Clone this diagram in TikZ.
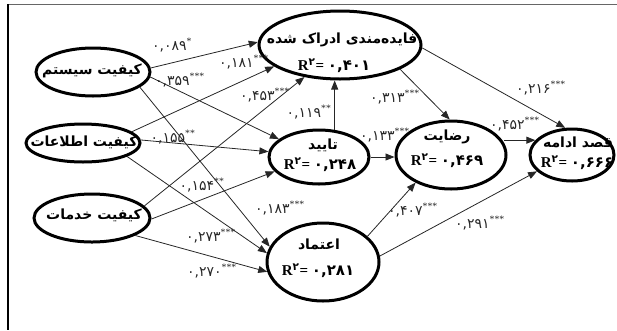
\documentclass[tikz,border=0pt]{standalone}
\usepackage{fontspec}
\usetikzlibrary{shapes.geometric,arrows.meta}
\setmainfont{Liberation Serif}
\newfontfamily\fa[Script=Arabic]{DejaVu Sans}
\TeXXeTstate=1
\newcommand{\edgeval}[2]{{\fa #1}\textsuperscript{#2}}
\newcommand{\rsqline}[1]{\textbf{R}\textsuperscript{\fa\bfseries ۲}\textbf{= }{\fa\bfseries #1}}
\tikzset{
  lat/.style={ellipse, draw=black, line width=3pt, inner sep=0pt},
  arr/.style={draw=black!85, line width=0.8pt, -{Triangle[length=9pt,width=7pt]}},
  elab/.style={inner sep=0pt, text=black!85, font=\fontsize{14}{15}\selectfont},
  ntxt/.style={inner sep=0pt, font=\fontsize{14}{15}\selectfont\fa\bfseries},
  rtxt/.style={inner sep=0pt, font=\fontsize{15}{16}\selectfont}
}
\begin{document}
\begin{tikzpicture}[x=1pt,y=-1pt]
\useasboundingbox (0,0) rectangle (617,330);
\draw[black!60, line width=1.6pt] (7,4.5) -- (617,4.5);
\draw[black, line width=1.8pt] (8,4) -- (8,330);

% latent variables
\node[lat, minimum width=114pt, minimum height=48pt] (sys) at (93,72) {};
\node[lat, minimum width=114pt, minimum height=38pt] (info) at (83,143) {};
\node[lat, minimum width=116pt, minimum height=48pt] (serv) at (92,218) {};
\node[lat, minimum width=162pt, minimum height=68pt] (pu) at (340,45) {};
\node[lat, minimum width=100pt, minimum height=54pt] (conf) at (319,157) {};
\node[lat, minimum width=110pt, minimum height=68pt] (sat) at (451,155) {};
\node[lat, minimum width=84pt, minimum height=52pt] (ci) at (572,155) {};
\node[lat, minimum width=112pt, minimum height=78pt] (trust) at (323,262) {};

% node texts
\node[ntxt] (sys-t) at (92,71) {\beginR کیفیت سیستم\endR};
\node[ntxt] (info-t) at (84,142) {\beginR کیفیت اطلاعات\endR};
\node[ntxt] (serv-t) at (94,215) {\beginR کیفیت خدمات\endR};
\node[ntxt] (pu-t) at (342,40) {\beginR فایده‌مندی ادراک شده\endR};
\node[rtxt] (pu-r) at (334,66) {\rsqline{۰,۴۰۱}};
\node[ntxt] (conf-t) at (323,145) {\beginR تایید\endR};
\node[rtxt] (conf-r) at (320,165) {\rsqline{۰,۲۴۸}};
\node[ntxt] (sat-t) at (447,137) {\beginR رضایت\endR};
\node[rtxt] (sat-r) at (447,161) {\rsqline{۰,۴۶۹}};
\node[ntxt] (ci-t) at (578,142) {\beginR قصد ادامه\endR};
\node[rtxt] (ci-r) at (577,163) {\rsqline{۰,۶۶۶}};
\node[ntxt] (trust-t) at (319,244) {\beginR اعتماد\endR};
\node[rtxt] (trust-r) at (318,271) {\rsqline{۰,۲۸۱}};

% paths
\draw[arr] (sys.4) -- (pu.178);
\draw[arr] (sys.-5) -- (conf.156);
\draw[arr] (sys.-18) -- (trust.164);
\draw[arr] (info.13) -- (pu.-162);
\draw[arr] (info.3) -- (conf.174);
\draw[arr] (info.-17) -- (trust.171);
\draw[arr] (serv.13) -- (pu.-138);
\draw[arr] (serv.-1) -- (conf.-162);
\draw[arr] (serv.-22) -- (trust.190);
\draw[arr] (conf.60) -- (conf.60 |- pu.south);
\draw[arr] (conf.east) -- (conf.east -| sat.west);
\draw[arr] (pu.-22) -- (sat.92);
\draw[arr] (pu.-2) -- (ci.104);
\draw[arr] (sat.13 |- ci.158) -- (ci.158);
\draw[arr] (trust.30) -- (sat.-142);
\draw[arr] (trust.6) -- (ci.-155);

% path coefficients
\node[elab] (l1) at (172,45) {\edgeval{۰,۰۸۹}{*}};
\node[elab] (l2) at (244,62) {\edgeval{۰,۱۸۱}{***}};
\node[elab] (l3) at (180,80) {\edgeval{۰,۳۵۹}{***}};
\node[elab] (l4) at (265,95) {\edgeval{۰,۴۵۳}{***}};
\node[elab] (l5) at (309,112) {\edgeval{۰,۱۱۹}{**}};
\node[elab] (l6) at (173,137) {\edgeval{۰,۱۵۵}{**}};
\node[elab] (l7) at (202,185) {\edgeval{۰,۱۵۴}{**}};
\node[elab] (l8) at (280,208) {\edgeval{۰,۱۸۳}{***}};
\node[elab] (l9) at (211,236) {\edgeval{۰,۲۷۳}{***}};
\node[elab] (l10) at (212,271) {\edgeval{۰,۲۷۰}{***}};
\node[elab] (l11) at (395,97) {\edgeval{۰,۳۱۳}{***}};
\node[elab] (l12) at (541,88) {\edgeval{۰,۲۱۶}{***}};
\node[elab] (l13) at (385,135) {\edgeval{۰,۱۳۳}{***}};
\node[elab] (l14) at (515,124) {\edgeval{۰,۴۵۲}{***}};
\node[elab] (l15) at (413,210) {\edgeval{۰,۴۰۷}{***}};
\node[elab] (l16) at (480,223) {\edgeval{۰,۲۹۱}{***}};
\end{tikzpicture}
\end{document}
